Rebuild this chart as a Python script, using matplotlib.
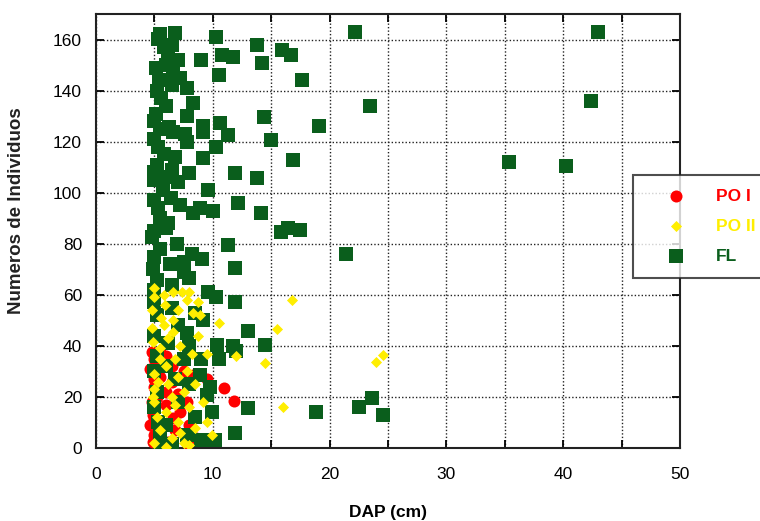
import matplotlib.pyplot as plt
import numpy as np
from matplotlib.ticker import MultipleLocator

plt.rcParams['font.family'] = ['Liberation Sans', 'DejaVu Sans']

# DAP (cm) and individual number for each group
fl_x = [5.3, 6.8, 6.5, 10.3, 13.8, 15.9, 16.7, 14.2, 9.0, 10.8, 11.7, 10.5, 5.1, 6.2, 6.6, 7.2,
        7.8, 8.3, 7.8, 5.2, 5.1, 10.6, 9.2, 14.4, 6.25, 22.2, 43.0, 42.4, 23.5, 17.6, 19.1, 5.6,
        6.0, 5.4, 6.0, 5.8, 7.0, 5.0, 6.5, 5.5,
        11.3, 10.3, 9.2, 8.0, 9.6, 11.9, 13.8, 15.0, 16.9, 35.4, 40.2, 12.2, 14.1, 10.0, 8.3, 8.9,
        9.2, 7.6, 6.6, 5.0, 5.3, 5.8, 6.8, 5.2, 6.5, 5.0, 7.0, 5.7, 5.0, 6.4, 5.3, 7.2, 5.5, 6.2,
        7.8, 5.5, 5.0, 6.0,
        15.8, 17.5, 4.8, 6.9, 11.3, 9.1, 8.2, 6.3, 4.9, 11.9, 8.0, 9.6, 10.3, 11.9, 21.4, 5.0,
        5.5, 5.0, 7.5, 5.2, 6.5, 7.5, 5.0, 16.4, 6.0, 5.5,
        9.2, 13.0, 10.4, 12.0, 14.5, 13.0, 11.9, 9.5, 9.9, 8.9, 18.8, 22.5, 23.6, 24.6, 5.0, 6.5,
        5.2, 7.0, 5.0, 6.2, 5.2, 7.5, 9.0, 5.0, 6.8, 8.0, 5.2, 7.0, 5.0, 8.5, 6.0, 5.5, 7.8, 6.5,
        9.0, 8.0, 10.5, 7.8, 6.0, 5.3, 9.8, 8.5, 11.7, 10.2, 5.5]
fl_y = [160.4, 162.4, 158, 161, 158, 156, 154, 151, 152, 154, 153, 146, 149, 154.5, 146.7, 145,
        141, 135, 130, 140, 131, 127.5, 126, 129.5, 125.6, 163, 163, 136, 134, 144, 126, 137,
        134, 144, 150, 157, 152, 128, 142, 162,
        122.5, 117.8, 113.4, 107.6, 101, 107.6, 105.6, 120.5, 112.7, 112, 110.5, 96, 92, 93, 92, 94,
        123.6, 123, 123.6, 121, 118, 115, 114, 111, 109, 105, 104, 101, 97, 98, 94, 95, 90, 88,
        120, 125, 108, 106,
        84.5, 85.5, 82.6, 80, 79.4, 74, 76, 72, 70, 70.4, 66.5, 61, 59, 57, 76, 85,
        78, 75, 73, 66, 64, 69, 62, 86, 86, 88,
        50, 46, 40.3, 38, 40.3, 15.6, 5.8, 20.7, 14, 28.5, 14, 16, 19.5, 13, 57, 55,
        52, 48, 44, 41, 36, 35, 35, 30, 27, 25, 22, 18, 16, 12, 9, 5, 5, 1.5,
        3, 40, 35, 45, 32, 10, 24, 53, 40, 3, 0.5]

po2_x = [5.0, 6.6, 7.4, 8.0, 5.0, 8.7, 5.9, 4.8, 7.8, 8.3, 5.6, 6.6, 8.9, 10.5, 4.8, 6.6,
         8.7, 15.5, 16.8, 14.5, 24.0, 24.6, 16.0, 12.0, 9.9, 9.2, 8.2, 6.8, 4.9, 5.5, 6.0, 5.0,
         7.0, 6.2, 5.0, 7.5, 6.5, 5.0, 8.0, 6.0, 5.2, 7.0, 8.5, 5.5, 6.5, 5.0, 7.5, 8.0,
         6.0, 5.3, 7.8, 6.2, 5.8, 7.2, 8.5, 9.5, 6.8, 7.2, 5.5, 4.9, 7.0, 5.8, 9.5]
po2_y = [62.6, 61, 61, 61, 59, 57, 56, 54, 58, 53, 51, 50, 52, 48.8, 47, 45.4,
         43.8, 46.5, 58, 33.3, 33.7, 36.4, 16, 36, 5, 18, 37, 35, 41.5, 39, 32, 29,
         28, 25, 23, 22, 20, 18, 16, 14, 12, 10, 8, 7, 4, 2, 2, 1,
         0.5, 26, 30, 43, 48, 40, 25, 10, 17, 6, 35, 20, 54, 60, 37]

po1_x = [4.8, 5.5, 8.3, 7.8, 4.9, 4.6, 6.6, 8.6, 4.9, 6.2, 4.6, 11.0, 11.8, 5.0, 6.0, 5.2,
         5.5, 6.5, 5.0, 7.0, 5.2, 6.0, 5.0, 7.2, 5.5, 6.8, 5.0, 5.8, 6.0, 5.0, 7.5, 4.8,
         8.0, 9.5, 5.3, 6.5, 5.0, 7.8]
po1_y = [37.5, 37.5, 28.5, 18, 13, 9, 11.7, 4, 2.3, 2.3, 31, 23.5, 18.4, 35, 36, 33,
         28, 26, 24, 21, 20, 17, 15, 14, 10, 7, 5, 1, 22, 27, 30, 18,
         9, 27, 7, 32, 11, 2]

fig = plt.figure(figsize=(7.6, 5.21), dpi=100)
ax = fig.add_axes([96 / 760, 73 / 521, 584 / 760, 434 / 521])

ax.scatter(po1_x, po1_y, s=75, marker='o', color='#ff0000', linewidths=0, label='PO I', zorder=3)
ax.scatter(fl_x, fl_y, s=100, marker='s', color='#0a5e1c', linewidths=0, label='FL', zorder=4)
ax.scatter(po2_x, po2_y, s=32, marker='D', color='#ffee00', linewidths=0, label='PO II', zorder=5)

ax.set_xlim(0, 50)
ax.set_ylim(0, 170)
ax.xaxis.set_major_locator(MultipleLocator(10))
ax.xaxis.set_minor_locator(MultipleLocator(5))
ax.yaxis.set_major_locator(MultipleLocator(20))
ax.grid(True, which='both', axis='x', color='#222222', linestyle=(0, (1, 1.5)), linewidth=1)
ax.grid(True, which='major', axis='y', color='#222222', linestyle=(0, (1, 1.5)), linewidth=1)
ax.set_axisbelow(True)
ax.tick_params(which='both', direction='in', top=True, right=True, length=6, width=1.3,
               labelsize=12.5)
ax.tick_params(axis='x', pad=14)
ax.tick_params(axis='y', pad=10)
for sp in ax.spines.values():
    sp.set_linewidth(1.5)
    sp.set_color('#222222')

ax.set_xlabel('DAP (cm)', fontsize=12.5, fontweight='bold')
ax.xaxis.set_label_coords(0.5, -0.131)
ax.set_ylabel('Numeros de Individuos', fontsize=13.5, fontweight='bold', color='#222222')
ax.yaxis.set_label_coords(-0.122, 0.546)

handles, labels = ax.get_legend_handles_labels()
order = [0, 2, 1]
leg = fig.legend([handles[i] for i in order], [labels[i] for i in order],
                 loc='upper left', bbox_to_anchor=(633 / 760, 1 - 175 / 521),
                 frameon=True, fancybox=False, edgecolor='#222222',
                 prop={'weight': 'bold', 'size': 12.5}, labelspacing=0.85, handlelength=3.3,
                 handletextpad=0.7, borderpad=0.8, borderaxespad=0,
                 labelcolor=['#ff0000', '#ffee00', '#0a5e1c'])
leg.get_frame().set_linewidth(1.5)

fig.savefig('out.png', dpi=100)
